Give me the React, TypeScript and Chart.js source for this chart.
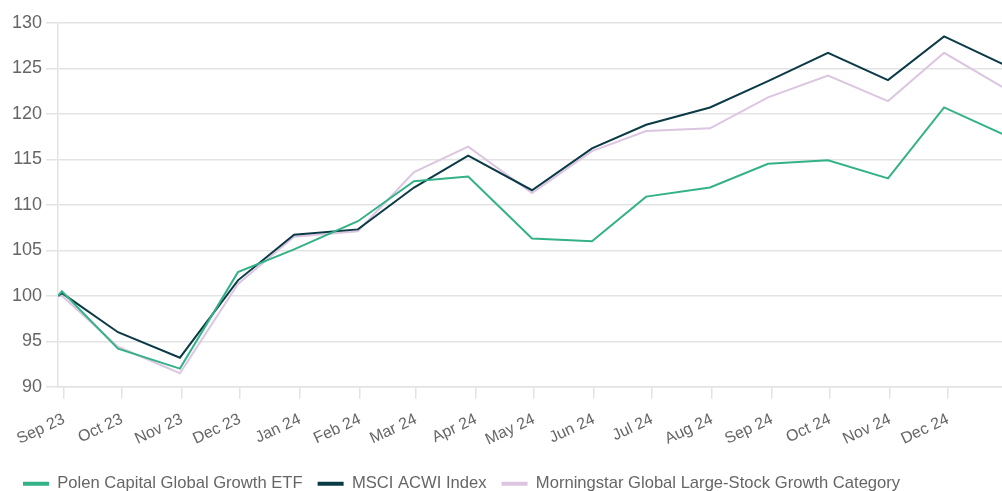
import React, { useEffect, useRef } from 'react';
import { Chart, registerables } from 'chart.js';

Chart.register(...registerables);

// Data dates (month-end trading days) and values
const dates = [
  '2023-08-29', '2023-08-31', '2023-09-29', '2023-10-31', '2023-11-30', '2023-12-29',
  '2024-01-31', '2024-02-29', '2024-03-28', '2024-04-30', '2024-05-31', '2024-06-28',
  '2024-07-31', '2024-08-30', '2024-09-30', '2024-10-31', '2024-11-29', '2024-12-31',
];
const polen = [100, 100.5, 94.2, 92.0, 102.6, 105.1, 108.2, 112.6, 113.1, 106.3, 106.0, 110.9, 111.9, 114.5, 114.9, 112.9, 120.7, 117.6];
const msci = [100, 100.3, 96.0, 93.2, 101.7, 106.7, 107.3, 111.9, 115.4, 111.6, 116.2, 118.8, 120.7, 123.6, 126.7, 123.7, 128.5, 125.3];
const morningstar = [100, 100.0, 94.4, 91.5, 101.3, 106.5, 107.1, 113.6, 116.4, 111.3, 115.9, 118.1, 118.4, 121.8, 124.2, 121.4, 126.7, 122.7];

// x-axis ticks (month starts) and their labels
const tickDates = [
  '2023-09-01', '2023-10-01', '2023-11-01', '2023-12-01', '2024-01-01', '2024-02-01',
  '2024-03-01', '2024-04-01', '2024-05-01', '2024-06-01', '2024-07-01', '2024-08-01',
  '2024-09-01', '2024-10-01', '2024-11-01', '2024-12-01',
];
const tickLabels = [
  'Sep 23', 'Oct 23', 'Nov 23', 'Dec 23', 'Jan 24', 'Feb 24', 'Mar 24', 'Apr 24',
  'May 24', 'Jun 24', 'Jul 24', 'Aug 24', 'Sep 24', 'Oct 24', 'Nov 24', 'Dec 24',
];

const seriesNames = [
  'Polen Capital Global Growth ETF',
  'MSCI ACWI Index',
  'Morningstar Global Large-Stock Growth Category',
];
const seriesColors = ['#33b287', '#0b3a47', '#dcc5e1'];

const toDay = (s: string) =>
  Date.UTC(Number(s.slice(0, 4)), Number(s.slice(5, 7)) - 1, Number(s.slice(8, 10))) / 86400000;

const FONT = "'Liberation Sans', Arial, Helvetica, sans-serif";
const TEXT = '#666666';
const GRID = '#e3e3e3';

export default function App() {
  const ref = useRef<HTMLCanvasElement | null>(null);

  useEffect(() => {
    if (!ref.current) return;
    const values = [polen, msci, morningstar];
    const chart = new Chart(ref.current, {
      type: 'line',
      data: {
        datasets: values.map((vals, i) => ({
          label: seriesNames[i],
          data: vals.map((v, j) => ({ x: toDay(dates[j]), y: v })),
          borderColor: seriesColors[i],
          backgroundColor: seriesColors[i],
          borderWidth: 2,
          pointRadius: 0,
          pointHoverRadius: 0,
          tension: 0,
          fill: false,
        })),
      },
      options: {
        responsive: false,
        maintainAspectRatio: false,
        animation: false,
        layout: { padding: 0 },
        font: { family: FONT },
        scales: {
          x: {
            type: 'linear',
            min: toDay(dates[0]),
            max: toDay(dates[dates.length - 1]),
            afterBuildTicks: (scale: any) => {
              scale.ticks = tickDates.map((d) => ({ value: toDay(d) }));
            },
            afterFit: (scale: any) => {
              scale.paddingLeft = 0;
              scale.paddingRight = 0;
            },
            grid: {
              drawOnChartArea: false,
              drawTicks: true,
              tickLength: 12,
              color: GRID,
              lineWidth: 1.5,
            },
            border: { display: true, color: GRID, width: 1.5 },
            ticks: {
              autoSkip: false,
              minRotation: 25,
              maxRotation: 25,
              padding: 11,
              color: TEXT,
              font: { family: FONT, size: 16 },
              callback: (_v: any, i: number) => tickLabels[i],
            },
          },
          y: {
            min: 90,
            max: 130,
            grid: { color: GRID, tickLength: 12, lineWidth: 1.5 },
            border: { display: true, color: GRID, width: 1.5 },
            ticks: {
              stepSize: 5,
              padding: 4,
              color: TEXT,
              font: { family: FONT, size: 18 },
            },
          },
        },
        plugins: {
          tooltip: { enabled: false },
          legend: {
            position: 'bottom',
            align: 'start',
            labels: {
              color: TEXT,
              font: { family: FONT, size: 16.6 },
              padding: 15,
              boxWidth: 26,
              boxHeight: 4,
              generateLabels: (c: any) =>
                Chart.defaults.plugins.legend.labels
                  .generateLabels(c)
                  .map((l: any) => ({ ...l, lineWidth: 0 })),
            },
          },
        },
      } as any,
    });
    return () => chart.destroy();
  }, []);

  return (
    <div
      style={{
        position: 'absolute',
        left: 8,
        top: 8,
        width: 994,
        height: 483,
        overflow: 'hidden',
      }}
    >
      <canvas ref={ref} width={998} height={494} style={{ display: 'block' }} />
    </div>
  );
}
